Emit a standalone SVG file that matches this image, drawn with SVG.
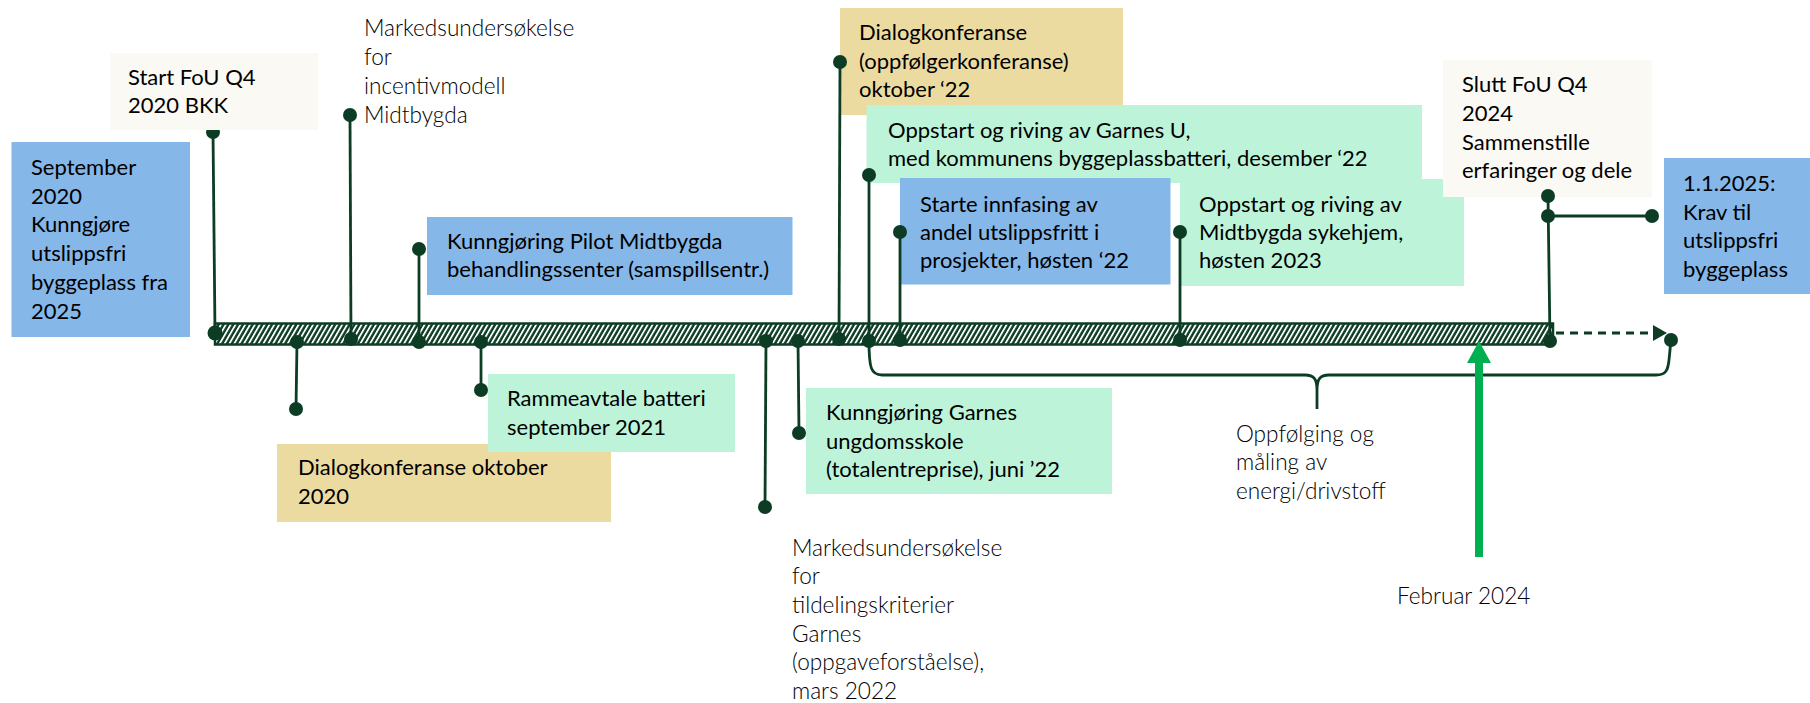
<svg xmlns="http://www.w3.org/2000/svg" width="1810" height="703" viewBox="0 0 1810 703">
<style>
.t{font-family:Lato,"Liberation Sans",sans-serif;font-size:22px;fill:#000}
.l{font-family:Lato,"Liberation Sans",sans-serif;font-weight:300;font-size:22.6px;fill:#000}
.blue{fill:#86b7e9}
.mint{fill:#bdf4d9}
.gold{fill:#ecdba0}
.beige{fill:#faf9f4}
.stem{stroke:#0c3d24;stroke-width:2.8;fill:none}
.dot{fill:#0c3d24}
</style>
<defs>
<pattern id="hatch" patternUnits="userSpaceOnUse" width="4.2" height="10" patternTransform="rotate(30)">
<rect width="4.2" height="10" fill="#0c3d24"/>
<rect width="1.8" height="10" fill="#fff"/>
</pattern>
<marker id="dash-head" markerUnits="userSpaceOnUse" viewBox="0 0 14 16" markerWidth="14" markerHeight="16" refX="0" refY="8" orient="auto">
<path d="M0,0 L14,8 L0,16 z" fill="#0c3d24"/>
</marker>
<marker id="green-head" markerUnits="userSpaceOnUse" viewBox="0 0 22 24" markerWidth="22" markerHeight="24" refX="0" refY="12" orient="auto">
<path d="M0,0 L22,12 L0,24 z" fill="#00b050"/>
</marker>
</defs>

<g id="timeline">
<rect x="215" y="323.5" width="1338" height="21" fill="url(#hatch)" stroke="#0c3d24" stroke-width="2.5"/>
</g>

<g id="n-sept">
<rect class="blue" x="11.5" y="142" width="178.5" height="195"/>
<text class="t" x="31" y="175"><tspan x="31">September</tspan><tspan x="31" dy="28.7">2020</tspan><tspan x="31" dy="28.7">Kunngjøre</tspan><tspan x="31" dy="28.7">utslippsfri</tspan><tspan x="31" dy="28.7">byggeplass fra</tspan><tspan x="31" dy="28.7">2025</tspan></text>
</g>
<g id="n-markeds-midtbygda">
<text class="l" x="364" y="36"><tspan x="364">Markedsundersøkelse</tspan><tspan x="364" dy="29">for</tspan><tspan x="364" dy="29">incentivmodell</tspan><tspan x="364" dy="29">Midtbygda</tspan></text>
</g>
<g id="n-pilot">
<rect class="blue" x="427" y="217" width="365.5" height="78"/>
<text class="t" x="447" y="248.5"><tspan x="447">Kunngjøring Pilot Midtbygda</tspan><tspan x="447" dy="28.6">behandlingssenter (samspillsentr.)</tspan></text>
</g>
<g id="n-dialog-2020">
<rect class="gold" x="277" y="444" width="334" height="78"/>
<text class="t" x="298" y="475"><tspan x="298">Dialogkonferanse oktober</tspan><tspan x="298" dy="28.6">2020</tspan></text>
</g>
<g id="n-ramme">
<rect class="mint" x="488" y="374" width="247" height="78"/>
<text class="t" x="507" y="406"><tspan x="507">Rammeavtale batteri</tspan><tspan x="507" dy="28.6">september 2021</tspan></text>
</g>
<g id="n-markeds-garnes">
<text class="l" x="792" y="555.5"><tspan x="792">Markedsundersøkelse</tspan><tspan x="792" dy="28.7">for</tspan><tspan x="792" dy="28.7">tildelingskriterier</tspan><tspan x="792" dy="28.7">Garnes</tspan><tspan x="792" dy="28.7">(oppgaveforståelse),</tspan><tspan x="792" dy="28.7">mars 2022</tspan></text>
</g>
<g id="n-kunngjoring-garnes">
<rect class="mint" x="806" y="388" width="306" height="106"/>
<text class="t" x="826" y="420"><tspan x="826">Kunngjøring Garnes</tspan><tspan x="826" dy="28.6">ungdomsskole</tspan><tspan x="826" dy="28.6">(totalentreprise), juni ’22</tspan></text>
</g>
<g id="n-dialog-2022">
<rect class="gold" x="840" y="8" width="283" height="107"/>
<text class="t" x="859" y="40"><tspan x="859">Dialogkonferanse</tspan><tspan x="859" dy="28.6">(oppfølgerkonferanse)</tspan><tspan x="859" dy="28.6">oktober ‘22</tspan></text>
</g>
<g id="n-garnes-u">
<rect class="mint" x="866.5" y="105" width="555.5" height="78"/>
<text class="t" x="888" y="138"><tspan x="888">Oppstart og riving av Garnes U,</tspan><tspan x="888" dy="28.3">med kommunens byggeplassbatteri, desember ‘22</tspan></text>
</g>
<g id="n-starte">
<rect class="blue" x="900" y="178" width="270.5" height="106.5"/>
<text class="t" x="920" y="212"><tspan x="920">Starte innfasing av</tspan><tspan x="920" dy="28">andel utslippsfritt i</tspan><tspan x="920" dy="28">prosjekter, høsten ‘22</tspan></text>
</g>
<g id="n-sykehjem">
<rect class="mint" x="1180" y="179" width="284" height="107"/>
<text class="t" x="1199" y="212"><tspan x="1199">Oppstart og riving av</tspan><tspan x="1199" dy="28">Midtbygda sykehjem,</tspan><tspan x="1199" dy="28">høsten 2023</tspan></text>
</g>
<g id="n-slutt">
<rect class="beige" x="1443" y="60" width="209" height="137"/>
<text class="t" x="1462" y="92"><tspan x="1462">Slutt FoU Q4</tspan><tspan x="1462" dy="28.8">2024</tspan><tspan x="1462" dy="28.8">Sammenstille</tspan><tspan x="1462" dy="28.8">erfaringer og dele</tspan></text>
</g>
<g id="n-krav">
<rect class="blue" x="1664" y="158" width="146" height="136"/>
<text class="t" x="1683" y="191"><tspan x="1683">1.1.2025:</tspan><tspan x="1683" dy="28.6">Krav til</tspan><tspan x="1683" dy="28.6">utslippsfri</tspan><tspan x="1683" dy="28.6">byggeplass</tspan></text>
</g>
<g id="n-oppfolging">
<text class="l" x="1236" y="442"><tspan x="1236">Oppfølging og</tspan><tspan x="1236" dy="28.3">måling av</tspan><tspan x="1236" dy="28.3">energi/drivstoff</tspan></text>
</g>
<g id="n-februar">
<text class="l" x="1397" y="604">Februar 2024</text>
</g>

<g id="connectors">
<path class="stem" d="M213,132 L215,333"/>
<path class="stem" d="M350,115 L351,339"/>
<path class="stem" d="M419,249 L419,342"/>
<path class="stem" d="M297,342 L296,409"/>
<path class="stem" d="M481,342 L481,390"/>
<path class="stem" d="M766,341 L765,507"/>
<path class="stem" d="M798,341 L799,433"/>
<path class="stem" d="M840,62 L839,339"/>
<path class="stem" d="M869,175 L869,341"/>
<path class="stem" d="M900,232 L900,340"/>
<path class="stem" d="M1180,232 L1180,340"/>
<path class="stem" d="M1548,196 L1550,341 M1548,216 L1652,216"/>
<path class="stem" d="M869,341 C869,368 871,375 882,375 L1305,375 C1314,375 1317,379 1317,390 L1317,409 M1317,390 C1317,379 1320,375 1329,375 L1656,375 C1666,375 1668,370 1669,360 L1671,340"/>
<path d="M1556,333 L1653,333" stroke="#0c3d24" stroke-width="2.8" stroke-dasharray="8 6" fill="none" marker-end="url(#dash-head)"/>
<path d="M1479,557 L1479,363" stroke="#00b050" stroke-width="8" fill="none" marker-end="url(#green-head)"/>
<circle class="dot" cx="213" cy="132" r="7"/>
<circle class="dot" cx="215" cy="333" r="7.5"/>
<circle class="dot" cx="350" cy="115" r="7"/>
<circle class="dot" cx="351" cy="339" r="7"/>
<circle class="dot" cx="419" cy="249" r="7"/>
<circle class="dot" cx="419" cy="342" r="7"/>
<circle class="dot" cx="297" cy="342" r="7"/>
<circle class="dot" cx="296" cy="409" r="7"/>
<circle class="dot" cx="481" cy="342" r="7"/>
<circle class="dot" cx="481" cy="390" r="7"/>
<circle class="dot" cx="766" cy="341" r="7"/>
<circle class="dot" cx="765" cy="507" r="7"/>
<circle class="dot" cx="798" cy="341" r="7"/>
<circle class="dot" cx="799" cy="433" r="7"/>
<circle class="dot" cx="840" cy="62" r="7"/>
<circle class="dot" cx="839" cy="339" r="7"/>
<circle class="dot" cx="869" cy="175" r="7"/>
<circle class="dot" cx="869" cy="341" r="7"/>
<circle class="dot" cx="900" cy="232" r="7"/>
<circle class="dot" cx="900" cy="340" r="7"/>
<circle class="dot" cx="1180" cy="232" r="7"/>
<circle class="dot" cx="1180" cy="340" r="7"/>
<circle class="dot" cx="1548" cy="196" r="7"/>
<circle class="dot" cx="1548" cy="216" r="7"/>
<circle class="dot" cx="1550" cy="341" r="7"/>
<circle class="dot" cx="1652" cy="216" r="7"/>
<circle class="dot" cx="1671" cy="340" r="7"/>
</g>

<g id="n-start-fou">
<rect class="beige" x="110" y="53" width="208" height="77"/>
<text class="t" x="128" y="85"><tspan x="128">Start FoU Q4</tspan><tspan x="128" dy="28.3">2020 BKK</tspan></text>
</g>
</svg>
